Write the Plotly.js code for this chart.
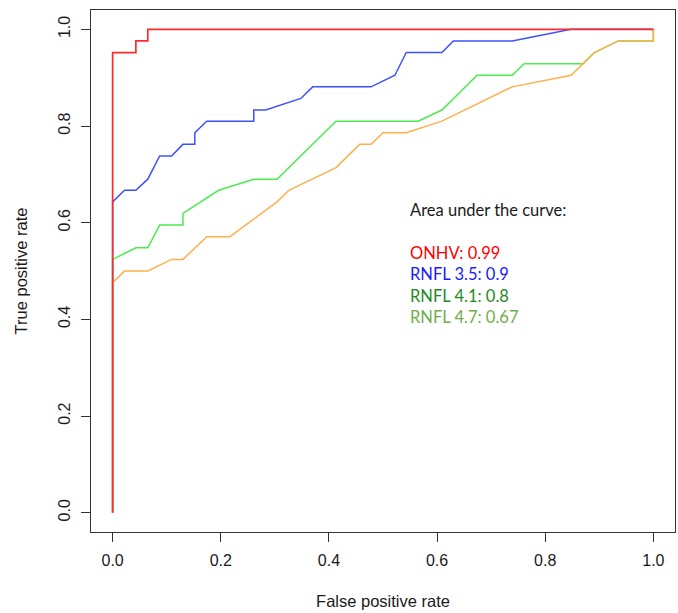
<!DOCTYPE html>
<html>
<head>
<meta charset="utf-8">
<script src="https://cdn.plot.ly/plotly-3.0.1.min.js"></script>
<style>html,body{margin:0;padding:0;background:#fff;}#chart{width:678px;height:613px;}</style>
</head>
<body>
<div id="chart"></div>
<script>
// ROC curves
const onhvFPR = [0, 0, 0.043, 0.043, 0.065, 0.065, 1];
const onhvTPR = [0, 0.952, 0.952, 0.976, 0.976, 1, 1];

const rnfl35FPR = [0, 0, 0.022, 0.043, 0.065, 0.087, 0.109, 0.130, 0.152, 0.152, 0.174, 0.261, 0.261, 0.283, 0.348, 0.370, 0.478, 0.522, 0.543, 0.609, 0.630, 0.739, 0.848, 1];
const rnfl35TPR = [0, 0.643, 0.667, 0.667, 0.690, 0.738, 0.738, 0.762, 0.762, 0.786, 0.810, 0.810, 0.833, 0.833, 0.857, 0.881, 0.881, 0.905, 0.952, 0.952, 0.976, 0.976, 1, 1];

const rnfl41FPR = [0, 0, 0.043, 0.065, 0.087, 0.130, 0.130, 0.196, 0.261, 0.304, 0.413, 0.565, 0.609, 0.674, 0.739, 0.761, 0.870, 0.891, 0.935, 1, 1];
const rnfl41TPR = [0, 0.524, 0.548, 0.548, 0.595, 0.595, 0.619, 0.667, 0.690, 0.690, 0.810, 0.810, 0.833, 0.905, 0.905, 0.929, 0.929, 0.952, 0.976, 0.976, 1];

const rnfl47FPR = [0, 0, 0.022, 0.065, 0.109, 0.130, 0.174, 0.217, 0.304, 0.326, 0.413, 0.457, 0.478, 0.500, 0.543, 0.609, 0.739, 0.848, 0.870, 0.891, 0.935, 1, 1];
const rnfl47TPR = [0, 0.476, 0.500, 0.500, 0.524, 0.524, 0.571, 0.571, 0.643, 0.667, 0.714, 0.762, 0.762, 0.786, 0.786, 0.810, 0.881, 0.905, 0.929, 0.952, 0.976, 0.976, 1];

const seriesNames = ["ONHV", "RNFL 3.5", "RNFL 4.1", "RNFL 4.7"];
const aucValues = ["0.99", "0.9", "0.8", "0.67"];
const tickVals = [0, 0.2, 0.4, 0.6, 0.8, 1.0];
const tickText = ["0.0", "0.2", "0.4", "0.6", "0.8", "1.0"];
const aucHeading = "Area under the curve:";

const lineColors = ["#FF2A2A", "#3F51FF", "#4DEB4D", "#FFAF4D"];
const textColors = ["#FF0000", "#1A1AFF", "#1E8C1E", "#6FAE4C"];

function tr(x, y, color, w) {
  return {x: x, y: y, type: "scatter", mode: "lines",
          line: {color: color, width: w, shape: "linear"},
          hoverinfo: "skip", showlegend: false};
}

const data = [
  tr(rnfl35FPR, rnfl35TPR, lineColors[1], 1.5),
  tr(rnfl41FPR, rnfl41TPR, lineColors[2], 1.5),
  tr(rnfl47FPR, rnfl47TPR, lineColors[3], 1.5),
  tr(onhvFPR, onhvTPR, lineColors[0], 1.7)
];

const textFont = "Lato, 'Open Sans', sans-serif";
const annotations = [{
  x: 0.547, y: 0.627, xref: "x", yref: "y", xanchor: "left", yanchor: "middle",
  text: aucHeading, showarrow: false, font: {family: textFont, size: 16.5, color: "#1a1a1a"}
}];
const lineYs = [0.538, 0.493, 0.448, 0.404];
for (let i = 0; i < seriesNames.length; i++) {
  annotations.push({
    x: 0.547, y: lineYs[i], xref: "x", yref: "y", xanchor: "left", yanchor: "middle",
    text: seriesNames[i] + ": " + aucValues[i], showarrow: false,
    font: {family: textFont, size: 16.5, color: textColors[i]}
  });
}

const tickFont = {family: "'Liberation Sans', Arial, sans-serif", size: 16, color: "#1a1a1a"};
const titleFont = {family: "'Liberation Sans', Arial, sans-serif", size: 16.5, color: "#1a1a1a"};
const layout = {
  width: 678, height: 613,
  margin: {l: 91, r: 3, t: 10, b: 81, pad: 0},
  paper_bgcolor: "#ffffff", plot_bgcolor: "#ffffff",
  font: tickFont,
  xaxis: {
    range: [-0.04, 1.04], tickvals: tickVals, ticktext: tickText,
    showgrid: false, zeroline: false, showline: true, mirror: true,
    linecolor: "#333", linewidth: 1, ticks: "outside", ticklen: 9, tickcolor: "#333",
    tickfont: tickFont, ticklabelstandoff: 5,
    title: {text: "False positive rate", font: titleFont, standoff: 27}
  },
  yaxis: {
    range: [-0.04, 1.04], tickvals: tickVals, ticktext: tickText,
    showgrid: false, zeroline: false, showline: true, mirror: true,
    linecolor: "#333", linewidth: 1, ticks: "outside", ticklen: 9, tickcolor: "#333",
    tickfont: tickFont, tickangle: -90, ticklabelstandoff: 5,
    title: {text: "True positive rate", font: titleFont, standoff: 23}
  },
  annotations: annotations
};

Plotly.newPlot("chart", data, layout, {displayModeBar: false, staticPlot: true});
</script>
</body>
</html>
